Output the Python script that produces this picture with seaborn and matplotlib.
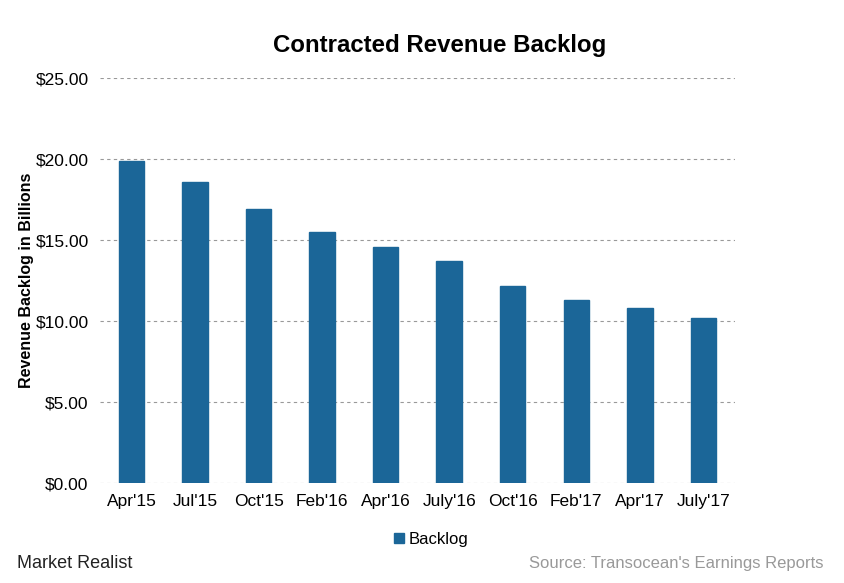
import numpy as np
import pandas as pd
import seaborn as sns
import matplotlib.pyplot as plt
from matplotlib.patches import Patch

sns.set_style("white")
plt.rcParams['font.family'] = ['Liberation Sans', 'DejaVu Sans']
plt.rcParams['text.color'] = 'black'
plt.rcParams['xtick.color'] = 'black'
plt.rcParams['ytick.color'] = 'black'
plt.rcParams['axes.labelcolor'] = 'black'

periods = ["Apr'15", "Jul'15", "Oct'15", "Feb'16", "Apr'16", "July'16",
           "Oct'16", "Feb'17", "Apr'17", "July'17"]
backlog = [19.9, 18.6, 16.9, 15.5, 14.6, 13.7, 12.2, 11.3, 10.8, 10.2]

df = pd.DataFrame({"period": periods, "backlog": backlog})
bar_color = "#1b6698"

fig = plt.figure(figsize=(8.45, 5.83), dpi=100)
ax = fig.add_axes([0.118, 0.171, 0.752, 0.695])
sns.barplot(data=df, x="period", y="backlog", color=bar_color, width=0.4,
            saturation=1, edgecolor=bar_color, ax=ax)

ax.set_ylim(0, 25)
ax.set_yticks(np.arange(0, 26, 5))
ax.set_yticklabels(["${:.2f}".format(v) for v in np.arange(0, 26, 5)])
ax.yaxis.grid(True, linestyle=(0, (3, 3)), color="#999999", linewidth=0.8)
ax.set_axisbelow(True)
for s in ax.spines.values():
    s.set_visible(False)
ax.tick_params(axis="both", length=0, labelsize=12.5, pad=8)
ax.set_xlabel("")
ax.set_ylabel("Revenue Backlog in Billions", fontsize=11.5, fontweight="bold", labelpad=1)

fig.text(0.52, 0.922, "Contracted Revenue Backlog", ha="center", va="center",
         fontsize=17.3, fontweight="bold")

fig.legend(handles=[Patch(color=bar_color, label="Backlog")], loc="center",
           bbox_to_anchor=(0.51, 0.075), frameon=False, fontsize=12,
           handlelength=0.6, handleheight=0.6, handletextpad=0.3)

fig.text(0.02, 0.033, "Market Realist", ha="left", va="center", fontsize=13,
         color="#222222")
fig.text(0.975, 0.033, "Source: Transocean's Earnings Reports", ha="right",
         va="center", fontsize=12, color="#999999")

fig.savefig("out.png", dpi=100)
